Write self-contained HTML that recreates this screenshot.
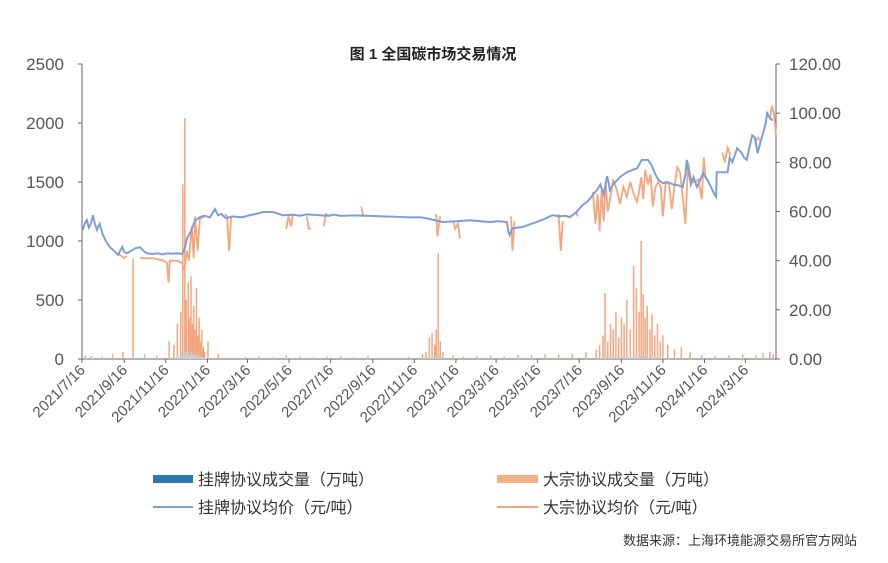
<!DOCTYPE html>
<html><head><meta charset="utf-8">
<style>
body{margin:0;background:#fff;}
svg{display:block;font-family:"Liberation Sans","Noto Sans CJK SC",sans-serif;}
</style></head>
<body>
<svg id="chart" width="888" height="563" viewBox="0 0 888 563">
<text x="433" y="59" text-anchor="middle" font-size="15" font-weight="bold" fill="#222">图 1 全国碳市场交易情况</text>
<g id="plot"></g>
<g id="legend">
<g><rect x="153" y="475" width="40" height="8" fill="#2e75b6"/><text x="198" y="485" font-size="16" fill="#333">挂牌协议成交量（万吨）</text></g>
<g><rect x="497" y="475" width="41" height="8" fill="#f4b183"/><text x="543" y="485" font-size="16" fill="#333">大宗协议成交量（万吨）</text></g>
<g><line x1="153" y1="507" x2="193" y2="507" stroke="#7f9fd4" stroke-width="2"/><text x="198" y="513" font-size="16" fill="#333">挂牌协议均价（元/吨）</text></g>
<g><line x1="497" y1="507" x2="538" y2="507" stroke="#f4a57d" stroke-width="2"/><text x="543" y="513" font-size="16" fill="#333">大宗协议均价（元/吨）</text></g>
</g>
<text x="857" y="545" text-anchor="end" font-size="13" fill="#333">数据来源：上海环境能源交易所官方网站</text>
</svg>
<script>
const leftTicks=[0,500,1000,1500,2000,2500];
const rightTicks=["0.00","20.00","40.00","60.00","80.00","100.00","120.00"];
const tickLabels=["2021/7/16","2021/9/16","2021/11/16","2022/1/16","2022/3/16","2022/5/16","2022/7/16","2022/9/16","2022/11/16","2023/1/16","2023/3/16","2023/5/16","2023/7/16","2023/9/16","2023/11/16","2024/1/16","2024/3/16"];
// days since 2021/7/16
const blueDays=[1,4,7,10,13,16,19,22,24,26,30,35,41,47,53,56,59,62,66,72,78,85,90,95,104,112,118,125,133,140,147,150,154,160,166,170,173,180,188,195,200,205,210,213,220,227,236,245,255,266,280,295,310,320,330,349,360,370,380,400,423,440,460,480,496,510,530,540,550,570,599,610,620,624,626,628,632,647,660,675,691,700,710,716,725,735,742,748,756,761,766,771,773,775,780,785,790,800,815,822,831,836,841,846,853,860,868,875,882,886,888,890,894,898,903,908,912,920,929,931,932,940,948,951,955,962,968,972,976,980,984,988,992,996,1000,1004,1006,1010,1014,1017,1019];
const bluePrices=[52.5,55,56.5,53.5,55,58.5,55,52.5,54,55,51,48,45.5,44,42.3,44,45.5,43.5,43,44,45,45.5,44,43,42.7,43,42.5,43,42.8,43,42.7,44,49,52,56.5,57,57.7,58.3,57.6,61,58.5,59,57.5,57.3,58,57.8,57.7,58.4,59,59.8,59.8,58.5,58.7,58.3,58.8,58.5,58.2,58.7,58.2,58.4,58.2,58,57.9,57.6,57.7,57,55.7,55.9,56,56.4,55.7,56,55.8,55.7,52,50.4,53.2,53.7,55,56.5,58.5,58,58.3,57.7,59.5,62.6,64,66,68.7,71,67,74.4,72,68.7,71,72.5,74,76,77.6,81,81,79,75.6,73,71.5,72,71,70.7,70,75,81,78,71,74,70,73,75.6,72,66.7,66,76,76,76,82,80,85.8,84,82,81,86,91,90,83.7,88,91.9,96,100,98,97];
const orangeDays=[53,62,66,null,85,104,120,125,127,129,140,147,150,154,157,161,164,166,170,173,180,null,210,213,216,219,null,300,303,307,310,null,330,333,336,null,355,358,365,null,410,413,null,520,522,526,null,545,548,552,555,null,630,632,635,null,700,703,706,null,725,728,null,750,754,757,760,763,766,769,772,776,780,785,790,795,800,805,810,815,818,821,824,827,831,835,838,842,846,850,853,857,862,866,870,874,878,882,886,890,895,900,905,910,913,916,null,940,944,948,952,null,988,992,996,null,1010,1013,1016,1019];
const orangePrices=[43,41,42,null,41,41,40,39,31,40,40,39,36,44,40,54,41,58,44,57,58,null,59,58,44,58,null,53,58,54,59,null,58,53,53,null,54,59,58,null,62,58,null,59,50,58,null,56,53,55,49,null,58,44,56,null,59,44,56,null,60,58,null,68,55,67,52,69,56,72,60,66,73,69,63,70,66,72,67,64,68,74,65,77,71,75,62,70,72,70,58,72,71,61,70,78,76,66,55,80,72,72,73,65,82,73,null,84,80,86,83,null,88,90,89,null,98,103,100,91];
const volDays=[5,14,30,45,60,75,92,110,128,135,140,145,148,151,153,156,158,160,162,164,166,168,170,172,174,176,178,180,185,200,240,260,280,300,320,340,360,380,400,420,480,500,505,510,514,518,520,523,526,530,545,560,580,600,620,640,660,680,700,720,740,755,760,765,768,772,776,780,784,788,792,796,800,805,810,814,818,821,824,827,830,834,837,841,845,849,853,860,870,880,893,910,930,950,970,990,1000,1010,1015];
const volBlock=[30,25,20,40,60,850,40,30,150,120,300,400,1480,2040,500,650,350,700,300,450,250,600,200,350,150,250,100,60,150,40,20,25,15,30,20,15,20,25,15,30,20,40,60,180,220,120,250,900,150,60,30,20,25,30,20,35,30,40,35,40,60,80,120,200,560,150,300,250,400,180,350,300,500,250,790,600,400,1000,550,350,450,250,380,200,300,150,200,120,80,100,60,30,25,30,40,30,50,60,40];
const volListed=[5,4,3,5,6,10,6,5,20,15,30,40,60,70,40,50,30,60,30,40,20,45,15,25,10,20,8,5,10,4,2,3,2,3,2,2,2,3,2,3,2,4,6,20,25,15,25,40,15,6,3,2,3,3,2,4,3,4,3,4,6,8,12,20,30,15,25,20,30,15,25,20,30,20,40,30,25,35,30,20,25,15,20,12,15,10,12,8,6,6,4,3,2,3,4,3,4,5,4];

const NS="http://www.w3.org/2000/svg";
const plot=document.getElementById('plot');
const X0=82,X1=776,Y0=359,Y1=64,SPAN=1019;
const x=d=>X0+d*(X1-X0)/SPAN;
const yL=v=>Y0-v*(Y0-Y1)/2500;
const yR=v=>Y0-v*(Y0-Y1)/120;
function mk(tag,attrs){const e=document.createElementNS(NS,tag);for(const k in attrs)e.setAttribute(k,attrs[k]);plot.appendChild(e);return e;}
let a=mk('line',{x1:X0,y1:Y1,x2:X0,y2:Y0,stroke:'#666','stroke-width':1});


a=mk('line',{x1:X1,y1:Y1,x2:X1,y2:Y0,stroke:'#666','stroke-width':1});


a=mk('line',{x1:X0,y1:Y0,x2:X1,y2:Y0,stroke:'#666','stroke-width':1});


leftTicks.forEach(v=>{
  mk('line',{x1:X0-4,y1:yL(v),x2:X0,y2:yL(v),stroke:'#666'});
  const t=mk('text',{x:64,y:yL(v)+6,'text-anchor':'end','font-size':17,fill:'#555'});
  t.textContent=v;
  
  
});
rightTicks.forEach(v=>{
  const yy=yR(parseFloat(v));
  mk('line',{x1:X1,y1:yy,x2:X1+4,y2:yy,stroke:'#666'});
  const t=mk('text',{x:789,y:yy+6,'font-size':17,fill:'#555'});
  t.textContent=v;
  
  
});
const base=new Date(2021,6,16);
tickLabels.forEach(s=>{
  const p=s.split('/').map(Number);
  const d=Math.round((new Date(p[0],p[1]-1,p[2])-base)/86400000);
  const xx=x(d);
  mk('line',{x1:xx,y1:Y0,x2:xx,y2:Y0+4,stroke:'#666'});
  const t=mk('text',{x:xx+4,y:Y0+12,'text-anchor':'end','font-size':15,fill:'#555',transform:`rotate(-45 ${xx+4} ${Y0+12})`});
  t.textContent=s;
  
  
});
volDays.forEach((d,i)=>{
  const b=mk('line',{x1:x(d),y1:Y0,x2:x(d),y2:yL(volBlock[i]),stroke:'#f4a57d','stroke-width':1.5});
  
  
});
volDays.forEach((d,i)=>{
  const b=mk('line',{x1:x(d)+0.8,y1:Y0,x2:x(d)+0.8,y2:yL(volListed[i]),stroke:'#bdd7ee','stroke-width':1.2});
  
  
});
function path(days,vals){let s='',pen=false;days.forEach((d,i)=>{if(d===null||vals[i]===null){pen=false;return;}s+=(pen?'L':'M')+x(d).toFixed(1)+' '+yR(vals[i]).toFixed(1);pen=true;});return s;}
let p=mk('path',{d:path(orangeDays,orangePrices),fill:'none',stroke:'#f4a57d','stroke-width':1.8});


p=mk('path',{d:path(blueDays,bluePrices),fill:'none',stroke:'#7f9fd4','stroke-width':2});


</script>
</body></html>
